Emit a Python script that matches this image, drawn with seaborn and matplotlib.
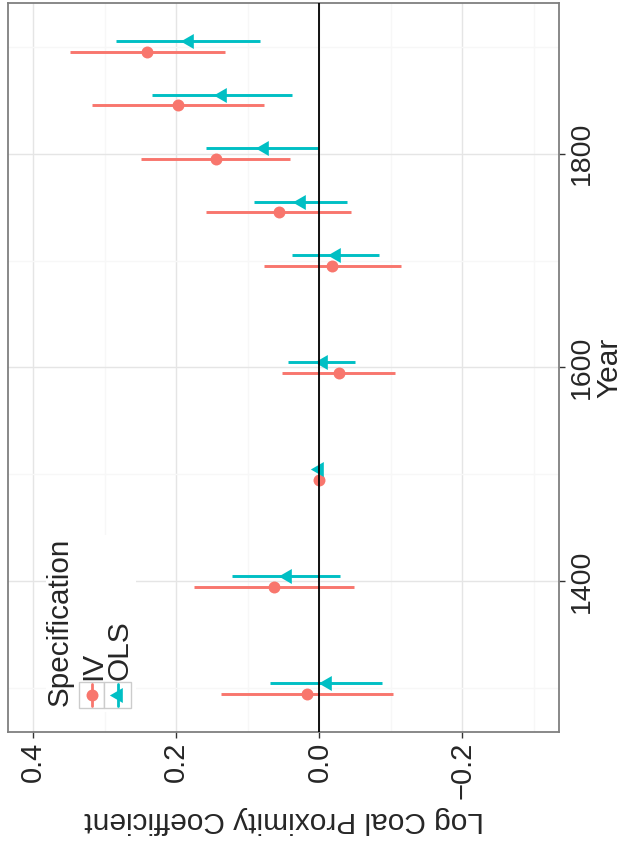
import numpy as np
import pandas as pd
import matplotlib
matplotlib.use("Agg")
import matplotlib.pyplot as plt
from matplotlib.patches import Rectangle
from matplotlib.lines import Line2D
import seaborn as sns

# ---- data ----
years = [1300, 1400, 1500, 1600, 1700, 1750, 1800, 1850, 1900]
iv_coef = [0.018, 0.064, 0.0, -0.027, -0.018, 0.057, 0.145, 0.198, 0.241]
iv_lo = [-0.103, -0.048, 0.0, -0.106, -0.114, -0.044, 0.041, 0.078, 0.132]
iv_hi = [0.138, 0.175, 0.0, 0.052, 0.077, 0.158, 0.249, 0.318, 0.349]
ols_coef = [-0.010, 0.046, 0.0, -0.005, -0.023, 0.026, 0.078, 0.136, 0.183]
ols_lo = [-0.087, -0.029, 0.0, -0.050, -0.083, -0.039, 0.002, 0.038, 0.083]
ols_hi = [0.069, 0.122, 0.0, 0.044, 0.039, 0.092, 0.158, 0.234, 0.284]
specs = ["IV", "OLS"]
x_ticks = [0.4, 0.2, 0.0, -0.2]
x_ticklabels = ["0.4", "0.2", "0.0", "\u22120.2"]
y_ticks = [1400, 1600, 1800]
y_minor = [1300, 1500, 1700, 1900]

# ---- style ----
sns.set_style("white")
plt.rcParams["font.family"] = ["Liberation Sans", "DejaVu Sans"]

W, H = 622, 841
fig = plt.figure(figsize=(W / 100, H / 100), dpi=100)

def fx(x):
    return x / W

def fy(y):
    return 1 - y / H

left, right, top, bottom = 8.3, 559, 2.7, 732.3
ax = fig.add_axes([fx(left), fy(bottom), (right - left) / W, (bottom - top) / H])

colors = {"IV": "#F8766D", "OLS": "#00BFC4"}
tri = [(-1.0, 0.0), (0.5, 0.866), (0.5, -0.866)]  # left-pointing, centroid-centred
markers = {"IV": "o", "OLS": tri}
msize = {"IV": 74, "OLS": 155}
dodge = {"IV": -5, "OLS": 5}

series = {
    "IV": (iv_coef, iv_lo, iv_hi),
    "OLS": (ols_coef, ols_lo, ols_hi),
}

rows = []
for s in specs:
    c, lo, hi = series[s]
    for yr, cc, l, h in zip(years, c, lo, hi):
        rows.append({"Year": yr, "Specification": s, "coef": cc, "lo": l, "hi": h})
df = pd.DataFrame(rows)
df["ypos"] = df["Year"] + df["Specification"].map(dodge)

for s in specs:
    d = df[df["Specification"] == s]
    ax.hlines(d["ypos"], d["lo"], d["hi"], color=colors[s], lw=2.1, zorder=3)
    sns.scatterplot(data=d, x="coef", y="ypos", ax=ax, color=colors[s],
                    marker=markers[s], s=msize[s], linewidth=0, zorder=4,
                    legend=False)

ax.axvline(0, color="black", lw=1.3, zorder=5)

ax.set_xlim(0.435, -0.335)
ax.set_ylim(1259, 1941)

ax.set_xticks(x_ticks)
ax.set_xticklabels(x_ticklabels, rotation=90, fontsize=21)
ax.set_xticks([0.3, 0.1, -0.1, -0.3], minor=True)
ax.yaxis.tick_right()
ax.yaxis.set_label_position("right")
ax.set_yticks(y_ticks)
ax.set_yticklabels([str(t) for t in y_ticks], rotation=90, fontsize=20.5,
                   va="center")
ax.set_yticks(y_minor, minor=True)

ax.tick_params(axis="both", which="major", length=4.5, width=1.0,
               color="#333333", pad=2.5)
ax.tick_params(axis="both", which="minor", length=0)
ax.tick_params(axis="x", bottom=True)
ax.tick_params(axis="y", right=True, left=False)

ax.grid(True, which="major", color="#E5E5E5", lw=1.0)
ax.grid(True, which="minor", color="#F7F7F7", lw=1.0)
ax.set_axisbelow(True)
for sp in ax.spines.values():
    sp.set_color("#7F7F7F")
    sp.set_linewidth(1.3)

ax.set_xlabel("Log Coal Proximity Coefficient", rotation=180, fontsize=21.5,
              labelpad=5)
ax.set_ylabel("Year", rotation=90, fontsize=21.5, labelpad=0.5)

# ---- legend (rotated, as in the reference) ----
fig.add_artist(Rectangle((fx(46), fy(712)), (136 - 46) / W, (712 - 535) / H,
                         transform=fig.transFigure, facecolor="white",
                         edgecolor="none", zorder=10))
fig.text(fx(68), fy(706), "Specification", rotation=90, rotation_mode="anchor",
         ha="left", va="baseline", fontsize=21.3, zorder=11)
key_x = {"IV": (79, 104), "OLS": (104, 131)}
for s in specs:
    x0, x1 = key_x[s]
    fig.add_artist(Rectangle((fx(x0), fy(708)), (x1 - x0) / W, (708 - 682) / H,
                             transform=fig.transFigure, facecolor="white",
                             edgecolor="#CCCCCC", lw=1.0, zorder=11))
    cx = (x0 + x1) / 2
    fig.add_artist(Line2D([fx(cx), fx(cx)], [fy(684), fy(706)],
                          transform=fig.transFigure, color=colors[s], lw=2.0,
                          zorder=12))
    fig.add_artist(Line2D([fx(cx)], [fy(695)], transform=fig.transFigure,
                          marker=markers[s], markersize=np.sqrt(msize[s]),
                          markeredgewidth=0, color=colors[s], zorder=13))
    fig.text(fx(cx + 10), fy(680), s, rotation=90, rotation_mode="anchor",
             ha="left", va="baseline", fontsize=21.5, zorder=11)

fig.savefig("out.png", dpi=100)
